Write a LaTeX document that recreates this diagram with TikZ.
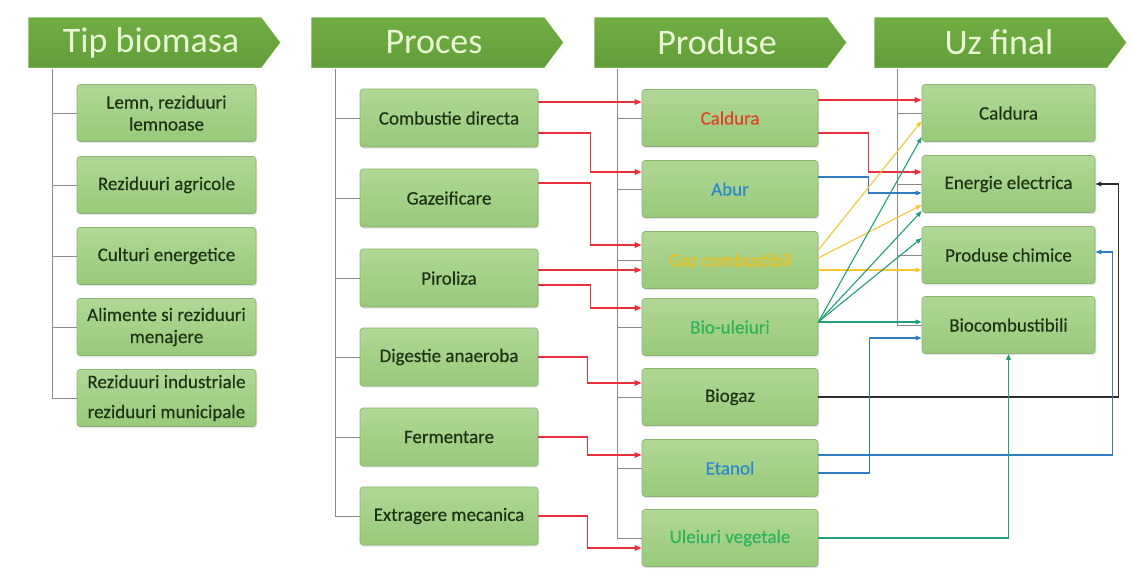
\documentclass[tikz,border=0pt]{standalone}
\usepackage{fontspec}
\setmainfont{Carlito}
\newfontfamily\boxfont{Carlito}[FakeBold=0.35]
\usetikzlibrary{arrows.meta,calc,shadows}
\definecolor{boxtop}{HTML}{B0D895}
\definecolor{boxbot}{HTML}{98C97A}
\definecolor{boxline}{HTML}{8BB472}
\definecolor{hdrtop}{HTML}{70AE43}
\definecolor{hdrbot}{HTML}{629E38}
\definecolor{hdrtext}{HTML}{EAF6D6}
\definecolor{treeline}{HTML}{8A8A8A}
\definecolor{txt}{HTML}{1E3314}
\definecolor{arred}{HTML}{E8313F}
\definecolor{arblue}{HTML}{2F7EC2}
\definecolor{aryellow}{HTML}{F5C832}
\definecolor{arteal}{HTML}{1F9F7C}
\definecolor{ardark}{HTML}{2E2E2E}
\definecolor{tred}{HTML}{E0452B}
\definecolor{tblue}{HTML}{2B88CE}
\definecolor{tyellow}{HTML}{EDC01A}
\definecolor{tgreen}{HTML}{2DB35A}
\begin{document}
\begin{tikzpicture}[x=1pt,y=-1pt,
  hdr/.style={top color=hdrtop,bottom color=hdrbot,draw=white,line width=2.5pt,line join=round,
    drop shadow={opacity=0.3,shadow xshift=0.8pt,shadow yshift=-1.2pt}},
  hdrtxt/.style={text=hdrtext,font=\fontsize{36}{40}\selectfont,inner sep=0pt},
  box/.style={rectangle,rounded corners=3pt,top color=boxtop,bottom color=boxbot,draw=boxline,
    line width=0.6pt,align=center,text=txt,font=\boxfont\fontsize{19}{22}\selectfont,inner sep=2pt,
    drop shadow={opacity=0.22,shadow xshift=1pt,shadow yshift=-1.5pt}},
  c1/.style={box,minimum width=179pt,minimum height=57pt},
  c2/.style={box,minimum width=178pt,minimum height=58pt},
  c3/.style={box,minimum width=176pt,minimum height=57pt},
  c4/.style={box,minimum width=173pt,minimum height=57pt},
  tree/.style={draw=treeline,line width=0.8pt},
  redar/.style={draw=arred,line width=1.4pt,-{Triangle[length=7pt,width=5.5pt]}},
  bluear/.style={draw=arblue,line width=1.1pt,-{Triangle[length=6pt,width=4.5pt]}},
  yelar/.style={draw=aryellow,line width=1.1pt,-{Triangle[length=6pt,width=4.5pt]}},
  tealar/.style={draw=arteal,line width=1.1pt,-{Triangle[length=6pt,width=4.5pt]}},
  darkar/.style={draw=ardark,line width=1.2pt,-{Triangle[length=6pt,width=4.5pt]}}]
\useasboundingbox (0,0) rectangle (1133,568);
\fill[white] (0,0) rectangle (1133,568);

% headers
\path[hdr] (27,16) -- (262,16) -- (282,42.5) -- (262,69) -- (27,69) -- cycle;
\node[hdrtxt] (h1) at (151,42.5) {Tip biomasa};
\path[hdr] (310,16) -- (545,16) -- (565,42.5) -- (545,69) -- (310,69) -- cycle;
\node[hdrtxt] (h2) at (434,42.5) {Proces};
\path[hdr] (593,16) -- (828,16) -- (848,42.5) -- (828,69) -- (593,69) -- cycle;
\node[hdrtxt] (h3) at (717,42.5) {Produse};
\path[hdr] (873,16) -- (1108,16) -- (1128,42.5) -- (1108,69) -- (873,69) -- cycle;
\node[hdrtxt] (h4) at (999,42.5) {Uz final};

% trees (vertical spines)
\coordinate (t1) at (52,69);
\coordinate (t2) at (335,69);
\coordinate (t3) at (617,69);
\coordinate (t4) at (897,69);

% column 1
\node[c1] (a1) at (166.5,113) {Lemn, reziduuri\\lemnoase};
\node[c1] (a2) at (166.5,185) {Reziduuri agricole};
\node[c1] (a3) at (166.5,256) {Culturi energetice};
\node[c1] (a4) at (166.5,327) {Alimente si reziduuri\\menajere};
\node[c1] (a5) at (166.5,398) {Reziduuri industriale\\[8pt]reziduuri municipale};

% column 2
\node[c2] (p1) at (449,118) {Combustie directa};
\node[c2] (p2) at (449,198) {Gazeificare};
\node[c2] (p3) at (449,278) {Piroliza};
\node[c2] (p4) at (449,357) {Digestie anaeroba};
\node[c2] (p5) at (449,437) {Fermentare};
\node[c2] (p6) at (449,516) {Extragere mecanica};

% column 3
\node[c3,text=tred] (q1) at (730,118) {Caldura};
\node[c3,text=tblue] (q2) at (730,189) {Abur};
\node[c3,text=tyellow] (q3) at (730,260) {Gaz combustibil};
\node[c3,text=tgreen] (q4) at (730,327) {Bio-uleiuri};
\node[c3] (q5) at (730,397) {Biogaz};
\node[c3,text=tblue] (q6) at (730,468) {Etanol};
\node[c3,text=tgreen] (q7) at (730,538) {Uleiuri vegetale};

% column 4
\node[c4] (u1) at (1008.5,113) {Caldura};
\node[c4] (u2) at (1008.5,184) {Energie electrica};
\node[c4] (u3) at (1008.5,255) {Produse chimice};
\node[c4] (u4) at (1008.5,325) {Biocombustibili};

\draw[tree] (t1) |- (a5.west);
\foreach \n in {a1,a2,a3,a4} \draw[tree] (\n.west -| t1) -- (\n.west);
\draw[tree] (t2) |- (p6.west);
\foreach \n in {p1,p2,p3,p4,p5} \draw[tree] (\n.west -| t2) -- (\n.west);
\draw[tree] (t3) |- (q7.west);
\foreach \n in {q1,q2,q3,q4,q5,q6} \draw[tree] (\n.west -| t3) -- (\n.west);
\draw[tree] (t4) |- (u4.west);
\foreach \n in {u1,u2,u3} \draw[tree] (\n.west -| t4) -- (\n.west);

% process -> products
\coordinate (s1) at ([yshift=16pt]p1.east);
\draw[redar] (s1) -- (s1 -| q1.west);
\draw[redar] ([yshift=-15pt]p1.east) -- ++(52,0) |- ([yshift=17pt]q2.west);
\draw[redar] ([yshift=15pt]p2.east) -- ++(52,0) |- ([yshift=15pt]q3.west);
\coordinate (s4) at ([yshift=8pt]p3.east);
\draw[redar] (s4) -- (s4 -| q3.west);
\draw[redar] ([yshift=-7pt]p3.east) -- ++(52,0) |- ([yshift=19pt]q4.west);
\draw[redar] (p4.east) -- ++(49,0) |- ([yshift=14pt]q5.west);
\draw[redar] (p5.east) -- ++(49,0) |- ([yshift=13pt]q6.west);
\draw[redar] (p6.east) -- ++(49,0) |- ([yshift=-10pt]q7.west);

% products -> final use
\coordinate (s9) at ([yshift=18pt]q1.east);
\draw[redar] (s9) -- (s9 -| u1.west);
\draw[redar] ([yshift=-15pt]q1.east) -- ++(50,0) |- ([yshift=12pt]u2.west);
\draw[bluear] ([yshift=12pt]q2.east) -- ++(50,0) |- ([yshift=-9pt]u2.west);
\draw[yelar] ([yshift=10pt]q3.east) -- ([yshift=-8pt]u1.west);
\draw[yelar] ([yshift=2pt]q3.east) -- ([yshift=-21pt]u2.west);
\coordinate (y3) at ([yshift=-10pt]q3.east);
\draw[yelar] (y3) -- (y3 -| u3.west);
\coordinate (g0) at ([yshift=5pt]q4.east);
\draw[tealar] (g0) -- ([yshift=-24pt]u1.west);
\draw[tealar] (g0) -- ([yshift=-27pt]u2.west);
\draw[tealar] (g0) -- ([yshift=17pt]u3.west);
\draw[tealar] (g0) -- (g0 -| u4.west);
\draw[darkar] (q5.east) -- ++(300,0) |- (u2.east);
\draw[bluear] ([yshift=13pt]q6.east) -- ++(294,0) |- ([yshift=3pt]u3.east);
\draw[bluear] ([yshift=-5pt]q6.east) -- ++(51,0) |- ([yshift=-13pt]u4.west);
\draw[tealar] (q7.east) -| (u4.south);
\end{tikzpicture}
\end{document}
